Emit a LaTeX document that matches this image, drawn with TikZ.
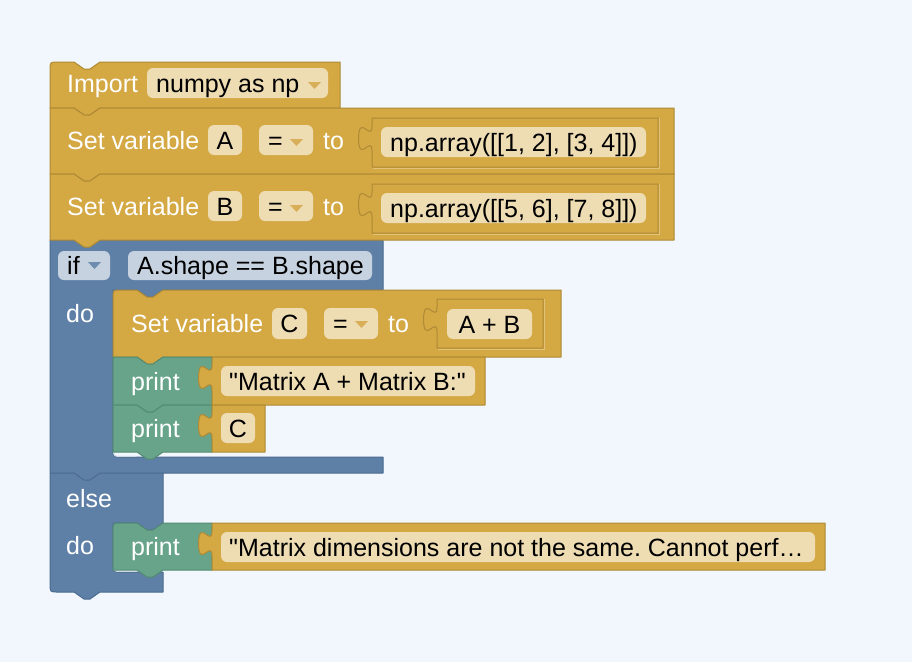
\documentclass[tikz,border=0pt]{standalone}
\usepackage{fontspec}
\setmainfont{Liberation Sans}[Ligatures=TeXOff]
\frenchspacing

\definecolor{canvas}{HTML}{F1F7FD}
\definecolor{gold}{HTML}{D4A843}
\definecolor{golddk}{HTML}{AE8A35}
\definecolor{goldlt}{HTML}{E2C27A}
\definecolor{goldfld}{HTML}{EEDCB3}
\definecolor{goldarrow}{HTML}{D9AE58}
\definecolor{logic}{HTML}{5F80A6}
\definecolor{logicdk}{HTML}{4B6A8F}
\definecolor{logicfld}{HTML}{C6D2DF}
\definecolor{logicarrow}{HTML}{6E8CB0}
\definecolor{textblk}{HTML}{67A48A}
\definecolor{textdk}{HTML}{528B72}

% statement block: notch on top, tab below  (#1 style, #2 x0, #3 y0, #4 x1, #5 y1)
\newcommand\stackblock[5]{%
  \path[#1] (#2,#3) -- ({#2+24},#3) -- ({#2+34},{#3+7}) -- ({#2+40},{#3+7}) -- ({#2+50},#3)
    -- (#4,#3) -- (#4,#5) -- ({#2+50},#5) -- ({#2+40},{#5+7}) -- ({#2+34},{#5+7}) -- ({#2+24},#5)
    -- (#2,#5) -- cycle;}
% same, with a rounded top-left corner
\newcommand\stackblockR[5]{%
  \path[#1] (#2,{#3+8}) .. controls (#2,#3) .. ({#2+8},#3) -- ({#2+24},#3) -- ({#2+34},{#3+7}) -- ({#2+40},{#3+7}) -- ({#2+50},#3)
    -- (#4,#3) -- (#4,#5) -- ({#2+50},#5) -- ({#2+40},{#5+7}) -- ({#2+34},{#5+7}) -- ({#2+24},#5)
    -- (#2,#5) -- cycle;}
% value block with a puzzle tab on its left edge
\newcommand\valblock[5]{%
  \path[#1] (#2,#3) -- (#4,#3) -- (#4,#5) -- (#2,#5) -- (#2,{#3+33})
    .. controls (#2,{#3+16.3}) and ({#2-13.4},{#3+46.4}) .. ({#2-13.4},{#3+20.5})
    .. controls ({#2-13.4},{#3-5.4}) and (#2,{#3+24.7}) .. (#2,{#3+8}) -- cycle;}
% dropdown arrow, top-left corner at (#2,#3)
\newcommand\ddarrow[3]{\fill[#1] (#2,#3) -- ({#2+13},#3) -- ({#2+6.5},{#3+7}) -- cycle;}

\begin{document}
\begin{tikzpicture}[x=1pt,y=-1pt,
  goldblock/.style={fill=gold, draw=golddk, line width=1pt, line join=round},
  logicblock/.style={fill=logic, draw=logicdk, line width=1pt, line join=round},
  printblock/.style={fill=textblk, draw=textdk, line width=1pt, line join=round},
  fieldG/.style={fill=goldfld, rounded corners=6pt},
  fieldB/.style={fill=logicfld, rounded corners=6pt},
  lbl/.style={inner sep=0pt, anchor=base west, text=white, font=\fontsize{25}{30}\selectfont},
  val/.style={lbl, text=black},
  valc/.style={val, anchor=base}]

\fill[canvas] (0,0) rectangle (912,662);
\useasboundingbox (0,0) rectangle (912,662);

% if / else block
\path[logicblock] (50,240) -- (383,240) -- (383,290) -- (163,290) -- (153,297) -- (147,297) -- (137,290)
  -- (113,290) -- (113,449) .. controls (113,457) .. (121,457) -- (383,457) -- (383,473)
  -- (163,473) -- (163,523) -- (153,530) -- (147,530) -- (137,523) -- (113,523)
  -- (113,564) .. controls (113,572) .. (121,572) -- (163,572) -- (163,592)
  -- (100,592) -- (90,599) -- (84,599) -- (74,592) -- (58,592) .. controls (50,592) .. (50,584) -- cycle;
\draw[logicdk, line width=1pt] (50,473) -- (74,473) -- (84,480) -- (90,480) -- (100,473) -- (163,473);
\draw[white!70!logic, line width=1pt] (113.6,446) -- (113.6,449) .. controls (113.6,456.4) .. (121,456.4) -- (136,456.4);
\draw[white!70!logic, line width=1pt] (113.6,561) -- (113.6,564) .. controls (113.6,571.4) .. (121,571.4) -- (136,571.4);

% top stack
\stackblockR{goldblock}{50}{62}{340}{108}
\stackblock{goldblock}{50}{108}{674}{174}
\stackblock{goldblock}{50}{174}{674}{240}
\draw[goldlt, line width=1pt] (373,168.5) -- (659.5,168.5) -- (659.5,118);
\draw[goldlt, line width=1pt] (373,234.5) -- (659.5,234.5) -- (659.5,184);
\valblock{goldblock}{372}{118}{658}{167}
\valblock{goldblock}{372}{184}{658}{233}

% statements inside "do"
\stackblockR{goldblock}{113}{290}{561}{357}
\draw[goldlt, line width=1pt] (438,349.5) -- (544.5,349.5) -- (544.5,299);
\valblock{goldblock}{437}{299}{543}{348}
\stackblock{printblock}{113}{357}{212}{405}
\stackblock{printblock}{113}{405}{212}{452}
\valblock{goldblock}{212}{357}{485}{405}
\valblock{goldblock}{212}{405}{265}{452}

% statement inside "else do"
\stackblockR{printblock}{113}{523}{212}{570}
\valblock{goldblock}{212}{523}{825}{570}

% fields
\path[fieldG] (147,68) rectangle (328,98);
\path[fieldG] (208,125) rectangle (242,155);
\path[fieldG] (259,125) rectangle (313,155);
\path[fieldG] (381,127) rectangle (646,157);
\path[fieldG] (208,191) rectangle (242,221);
\path[fieldG] (259,191) rectangle (313,221);
\path[fieldG] (381,193) rectangle (646,223);
\path[fieldB] (58,251) rectangle (110,280);
\path[fieldB] (128,251) rectangle (372,280);
\path[fieldG] (272,308) rectangle (307,339);
\path[fieldG] (324,308) rectangle (378,339);
\path[fieldG] (447,309) rectangle (532,339);
\path[fieldG] (221,366) rectangle (475,396);
\path[fieldG] (221,413) rectangle (255,443);
\path[fieldG] (221,532) rectangle (815,562);

% dropdown arrows
\ddarrow{goldarrow}{308}{82}
\ddarrow{goldarrow}{290}{139}
\ddarrow{goldarrow}{290}{205}
\ddarrow{logicarrow}{88}{262}
\ddarrow{goldarrow}{355}{321}

% texts
\node[lbl] (import) at (67,92) {Import};
\node[val] (numpy) at (156,92) {numpy as np};

\node[lbl] (setA) at (67,149) {Set variable};
\node[valc] (varA) at (225,149) {A};
\node[val] (opA) at (268,149) {=};
\node[lbl] (toA) at (323,149) {to};
\node[val] (arrA) at (390,151) {np.array([[1, 2], [3, 4]])};

\node[lbl] (setB) at (67,215) {Set variable};
\node[valc] (varB) at (225,215) {B};
\node[val] (opB) at (268,215) {=};
\node[lbl] (toB) at (323,215) {to};
\node[val] (arrB) at (390,217) {np.array([[5, 6], [7, 8]])};

\node[val] (iflbl) at (67,274) {if};
\node[val] (cond) at (137,274) {A.shape == B.shape};
\node[lbl] (do1) at (66,322) {do};

\node[lbl] (setC) at (131,332) {Set variable};
\node[valc] (varC) at (289.5,332) {C};
\node[val] (opC) at (333,332) {=};
\node[lbl] (toC) at (388,332) {to};
\node[valc] (sum) at (489.5,333) {A + B};

\node[lbl] (print1) at (131,390) {print};
\node[val] (str1) at (229,390) {"Matrix A + Matrix B:"};
\node[lbl] (print2) at (131,437) {print};
\node[valc] (outC) at (238,437) {C};

\node[lbl] (elselbl) at (66,507) {else};
\node[lbl] (do2) at (66,554) {do};
\node[lbl] (print3) at (131,555) {print};
\node[val] (str2) at (229,556) {"Matrix dimensions are not the same. Cannot perf…};
\end{tikzpicture}
\end{document}
